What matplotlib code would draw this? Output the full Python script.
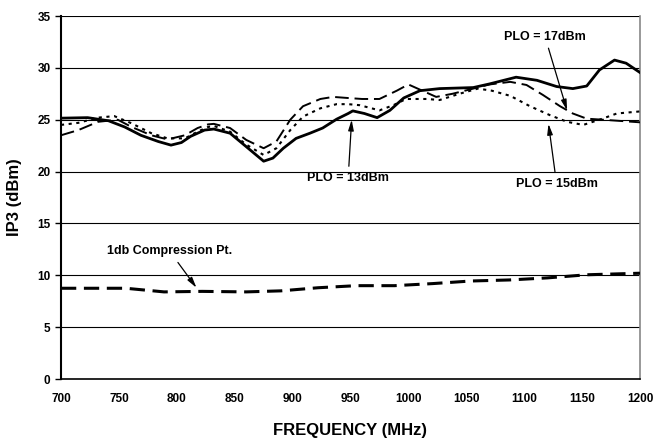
import matplotlib
matplotlib.use("Agg")
import matplotlib.pyplot as plt

plt.rcParams['font.family'] = ['Liberation Sans', 'DejaVu Sans']
plt.rcParams['font.weight'] = 'bold'

# PLO = 13dBm (solid)
f13 = [700, 723, 741, 755, 769, 784, 795, 804, 812, 824, 832, 846, 860, 875, 883,
       892, 903, 915, 926, 938, 948, 952, 962, 973, 984, 996, 1010, 1027, 1056,
       1070, 1093, 1111, 1128, 1142, 1154, 1165, 1178, 1188, 1200]
ip3_13 = [25.15, 25.2, 24.9, 24.3, 23.5, 22.9, 22.55, 22.8, 23.4, 24.0, 24.1, 23.7,
          22.4, 21.0, 21.3, 22.25, 23.2, 23.7, 24.2, 25.05, 25.6, 25.85, 25.6, 25.2,
          25.9, 27.1, 27.8, 28.0, 28.1, 28.45, 29.1, 28.8, 28.2, 28.0, 28.25, 29.8,
          30.75, 30.45, 29.55]

# PLO = 17dBm (long dash)
f17 = [700, 715, 732, 749, 761, 778, 792, 807, 818, 827, 832, 846, 860, 875, 886,
       898, 909, 924, 935, 947, 960, 975, 990, 1000, 1010, 1024, 1038, 1056, 1070,
       1088, 1102, 1116, 1131, 1142, 1154, 1168, 1200]
ip3_17 = [23.5, 24.0, 24.8, 25.0, 24.3, 23.5, 23.1, 23.5, 24.2, 24.55, 24.6, 24.2,
          23.05, 22.25, 22.9, 25.0, 26.3, 27.0, 27.2, 27.1, 27.0, 27.0, 27.8, 28.4,
          27.9, 27.2, 27.5, 28.0, 28.4, 28.65, 28.35, 27.4, 26.3, 25.6, 25.1, 25.0,
          24.75]

# PLO = 15dBm (dotted)
f15 = [700, 715, 732, 746, 761, 778, 792, 807, 818, 827, 832, 846, 860, 875, 886,
       898, 909, 924, 938, 948, 958, 975, 987, 998, 1016, 1027, 1044, 1060, 1072,
       1088, 1105, 1122, 1137, 1151, 1165, 1180, 1200]
ip3_15 = [24.5, 24.7, 25.2, 25.35, 24.65, 23.7, 23.2, 23.2, 23.85, 24.3, 24.4, 23.85,
          22.6, 21.6, 22.25, 24.0, 25.3, 26.1, 26.5, 26.5, 26.4, 25.9, 26.4, 27.0,
          27.0, 26.9, 27.5, 28.0, 27.8, 27.3, 26.3, 25.45, 24.8, 24.5, 25.0, 25.6,
          25.8]

# 1db compression point
fc = [700, 756, 789, 822, 860, 890, 922, 955, 988, 1021, 1054, 1087, 1120, 1154, 1200]
p1db = [8.75, 8.75, 8.4, 8.45, 8.4, 8.5, 8.8, 9.0, 9.0, 9.2, 9.45, 9.55, 9.75, 10.05, 10.2]

xticks = [700, 750, 800, 850, 900, 950, 1000, 1050, 1100, 1150, 1200]
yticks = [0, 5, 10, 15, 20, 25, 30, 35]

fig = plt.figure(figsize=(6.65, 4.42), dpi=100)
ax = fig.add_axes([0.0917, 0.1425, 0.8707, 0.8213])

for y in yticks[1:]:
    ax.axhline(y, color='black', lw=0.8, zorder=1)

style = dict(color='black', solid_joinstyle='round', dash_joinstyle='round', zorder=3)
ax.plot(f13, ip3_13, lw=2.0, **style)
ax.plot(f17, ip3_17, lw=1.4, dashes=(7, 3), **style)
ax.plot(f15, ip3_15, lw=1.5, dashes=(1.5, 2.2), **style)
ax.plot(fc, p1db, lw=2.2, dashes=(5, 2.5), **style)

ax.set_xlim(700, 1200)
ax.set_ylim(0, 35)
ax.set_xticks(xticks)
ax.set_yticks(yticks)
ax.tick_params(axis='x', length=0, pad=10, labelsize=8.5)
ax.tick_params(axis='y', direction='out', length=4, width=1, labelsize=8.5)

ax.spines['top'].set_visible(False)
ax.spines['left'].set_linewidth(1.5)
ax.spines['bottom'].set_linewidth(1.2)
ax.spines['right'].set_color('#888888')
ax.spines['right'].set_linewidth(1.2)

ax.set_xlabel('FREQUENCY (MHz)', fontsize=12, fontweight='bold', labelpad=13)
ax.set_ylabel('IP3 (dBm)', fontsize=12, fontweight='bold', labelpad=11)

arrow = dict(arrowstyle='-|>,head_length=0.7,head_width=0.18', color='black',
             lw=0.9, shrinkA=2, shrinkB=0)
ax.annotate('PLO = 17dBm', xy=(1137, 25.9), xytext=(1118, 33.0), ha='center',
            va='center', fontsize=9, fontweight='bold', arrowprops=arrow)
ax.annotate('PLO = 13dBm', xy=(951, 25.0), xytext=(948, 19.4), ha='center',
            va='center', fontsize=9, fontweight='bold', arrowprops=arrow)
ax.annotate('PLO = 15dBm', xy=(1121, 24.6), xytext=(1128, 18.8), ha='center',
            va='center', fontsize=9, fontweight='bold', arrowprops=arrow)
ax.annotate('1db Compression Pt.', xy=(817, 8.8), xytext=(794, 12.3), ha='center',
            va='center', fontsize=9, fontweight='bold', arrowprops=arrow)

fig.savefig('out.png', dpi=100)
